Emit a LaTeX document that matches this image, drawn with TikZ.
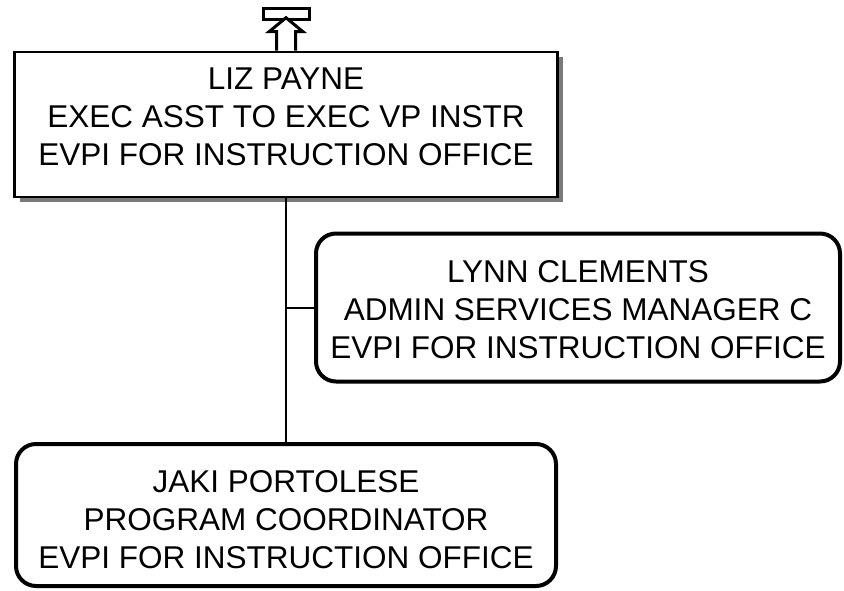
\documentclass[tikz,border=0pt]{standalone}
\usepackage{fontspec}
\setmainfont{Liberation Sans}
\usetikzlibrary{shadows}
\tikzset{
  person/.style={draw,align=center,inner sep=0pt,text depth=0pt,
    font=\fontsize{31.5}{38}\selectfont},
  headbox/.style={person,line width=2.5pt,fill=white,minimum width=543pt,minimum height=145pt,
    drop shadow={shadow xshift=5pt,shadow yshift=-5pt,fill=gray!95!black,opacity=1}},
  staffbox/.style={person,line width=4pt,rounded corners=20pt,minimum height=148pt},
  link/.style={line width=2pt}
}
\begin{document}
\begin{tikzpicture}[x=1pt,y=-1pt]
        \useasboundingbox (0,0) rectangle (844,591);
        \def\tx{286}
        % boxes
        \node[headbox,text depth=15pt] (liz) at (\tx,124.5)
          {LIZ PAYNE\\EXEC ASST TO EXEC VP INSTR\\EVPI FOR INSTRUCTION OFFICE};
        \node[staffbox,minimum width=524pt,text height=102pt] (lynn) at (578,307.5)
          {LYNN CLEMENTS\\ADMIN SERVICES MANAGER C\\EVPI FOR INSTRUCTION OFFICE};
        \node[staffbox,minimum width=540pt,minimum height=142pt,text height=107pt] (jaki) at (\tx,515)
          {JAKI PORTOLESE\\PROGRAM COORDINATOR\\EVPI FOR INSTRUCTION OFFICE};
        % connectors
        \draw[link] (liz.south) -- (jaki.north);
        \draw[link] (lynn.west -| liz.south) -- (lynn.west);
        % up arrow on top
        \draw[line width=3pt] ([xshift=-23pt,yshift=42pt]liz.north) rectangle ([xshift=23pt,yshift=31pt]liz.north);
        \draw[line width=3pt,fill=white,line join=miter]
          (liz.north) ++(-9.5,0) -- ++(0,-19) -- ++(-7.5,0) -- ++(17,-14) -- ++(17,14)
          -- ++(-7.5,0) -- ++(0,19);
\end{tikzpicture}
\end{document}
